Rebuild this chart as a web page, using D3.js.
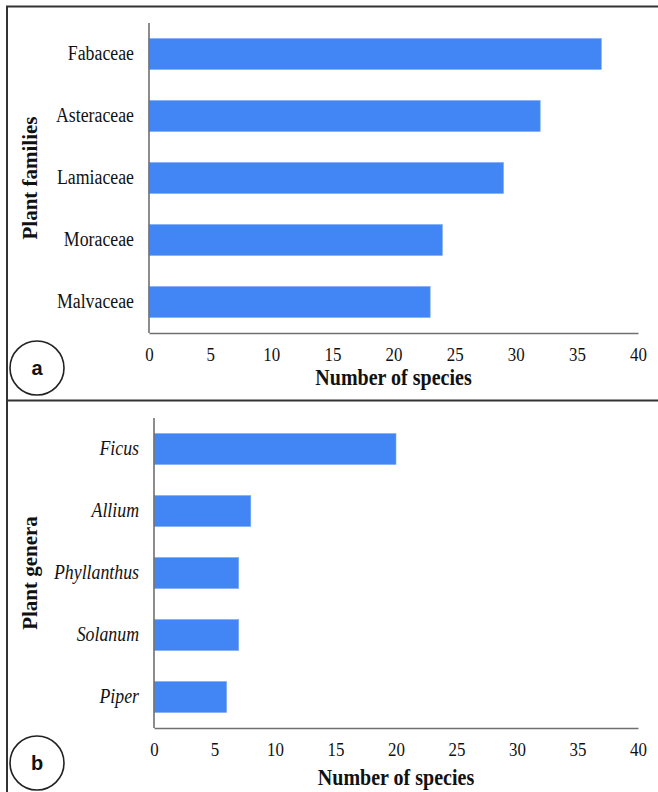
<!DOCTYPE html>
<html>
<head>
<meta charset="utf-8">
<script src="https://cdn.jsdelivr.net/npm/d3@7"></script>
<style>
  html, body { margin: 0; padding: 0; background: #fff; }
  svg { display: block; }
</style>
</head>
<body>
<svg id="chart" width="658" height="792"></svg>
<script>
// ---- data ----
const familyCategories = ["Fabaceae", "Asteraceae", "Lamiaceae", "Moraceae", "Malvaceae"];
const familyValues = [37, 32, 29, 24, 23];
const genusCategories = ["Ficus", "Allium", "Phyllanthus", "Solanum", "Piper"];
const genusValues = [20, 8, 7, 7, 6];
const xTicks = [0, 5, 10, 15, 20, 25, 30, 35, 40];
const xLabel = "Number of species";
const yLabelA = "Plant families";
const yLabelB = "Plant genera";
const panelLetters = ["a", "b"];

const svg = d3.select("#chart");
const serif = "Liberation Serif";
const sans = "Liberation Sans";
const squeeze = 0.89;
const barColor = "#4285f4";

// outer frame
svg.append("path")
  .attr("d", "M7,792 L7,6.5 L658,6.5")
  .attr("fill", "none").attr("stroke", "#333").attr("stroke-width", 2);
svg.append("line")
  .attr("x1", 7).attr("x2", 658).attr("y1", 400.5).attr("y2", 400.5)
  .attr("stroke", "#333").attr("stroke-width", 2);

function panel(cfg) {
  const { cats, vals, x0, x1, y0, y1, ylab, italic, letter, letterY, tickY, titleY, ylabX } = cfg;
  const g = svg.append("g");
  const x = d3.scaleLinear().domain([0, 40]).range([x0, x1]);
  const y = d3.scaleBand().domain(cats).range([y0, y1]).paddingInner(0.5).paddingOuter(0.25);

  g.selectAll("rect.bar").data(cats).join("rect")
    .attr("class", "bar")
    .attr("x", x(0))
    .attr("y", d => y(d))
    .attr("width", (d, i) => x(vals[i]) - x(0))
    .attr("height", y.bandwidth())
    .attr("fill", barColor)
    .attr("stroke", "#7aa9f7").attr("stroke-width", 0.6);

  // x axis
  const xa = g.append("g").attr("transform", `translate(0,${y1})`)
    .call(d3.axisBottom(x).tickValues(xTicks).tickSize(0).tickPadding(0));
  xa.attr("font-family", serif);
  xa.select(".domain").attr("stroke", "#707070").attr("stroke-width", 1.6);
  xa.selectAll("text")
    .attr("y", tickY - y1).attr("dy", "0.35em")
    .attr("transform", `scale(${squeeze},1)`)
    .attr("x", 0)
    .attr("font-family", serif).attr("font-size", 19).attr("fill", "#111");

  // y axis
  const ya = g.append("g").attr("transform", `translate(${x0},0)`)
    .call(d3.axisLeft(y).tickSize(0).tickPadding(0));
  ya.attr("font-family", serif);
  ya.select(".domain").attr("d", `M0,${y0}V${y1}`).attr("stroke", "#707070").attr("stroke-width", 1.6);
  ya.selectAll("text")
    .attr("x", -15 / squeeze)
    .attr("transform", `scale(${squeeze},1)`)
    .attr("font-family", serif).attr("font-size", 20)
    .attr("font-style", italic ? "italic" : "normal").attr("fill", "#111");

  // x title
  g.append("text")
    .attr("transform", `translate(${(x0 + x1) / 2},${titleY}) scale(${squeeze},1)`)
    .attr("text-anchor", "middle")
    .attr("font-family", serif).attr("font-size", 22.5).attr("font-weight", "bold")
    .attr("fill", "#111").text(xLabel);

  // y title
  g.append("text")
    .attr("transform", `translate(${ylabX},${(y0 + y1) / 2}) rotate(-90)`)
    .attr("text-anchor", "middle").attr("dy", "0.35em")
    .attr("font-family", serif).attr("font-size", 21).attr("font-weight", "bold")
    .attr("fill", "#111").text(ylab);

  // letter circle
  g.append("circle").attr("cx", 37).attr("cy", letterY).attr("r", 27)
    .attr("fill", "none").attr("stroke", "#222").attr("stroke-width", 1.6);
  g.append("text").attr("x", 37).attr("y", letterY).attr("dy", "0.35em")
    .attr("text-anchor", "middle")
    .attr("font-family", sans).attr("font-size", 20).attr("font-weight", "bold")
    .attr("fill", "#111").text(letter);
}

panel({ cats: familyCategories, vals: familyValues, x0: 149, x1: 638, y0: 23, y1: 333,
  ylab: yLabelA, italic: false, letter: panelLetters[0], letterY: 368,
  tickY: 354, titleY: 385, ylabX: 30 });
panel({ cats: genusCategories, vals: genusValues, x0: 154, x1: 638, y0: 418, y1: 728,
  ylab: yLabelB, italic: true, letter: panelLetters[1], letterY: 763,
  tickY: 749, titleY: 785, ylabX: 30 });
</script>
</body>
</html>
